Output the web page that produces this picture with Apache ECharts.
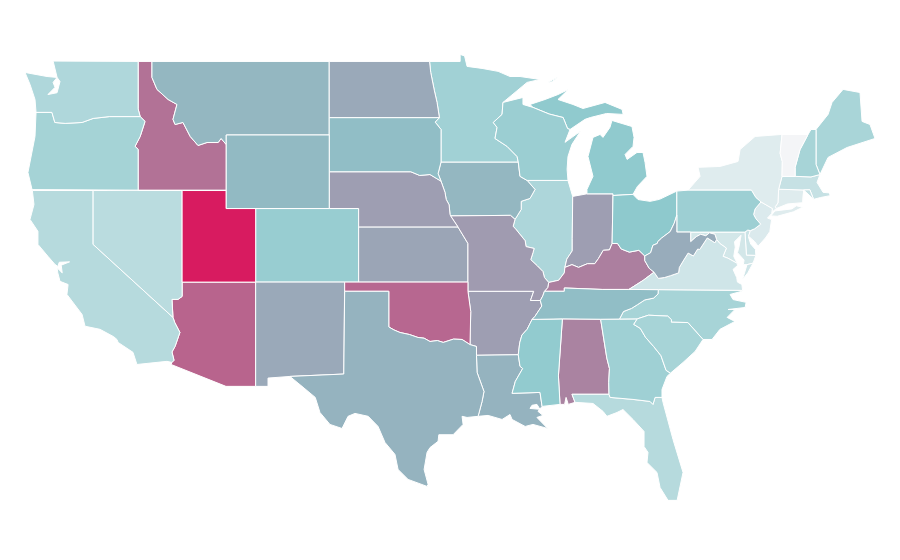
<!DOCTYPE html>
<html><head><meta charset="utf-8">
<style>html,body{margin:0;padding:0;background:#fff}#c{width:900px;height:560px}</style>
<script src="https://cdn.jsdelivr.net/npm/echarts@6/dist/echarts.min.js"></script>
</head><body><div id="c"></div>
<script>
const stateNames = ['Alabama','Arizona','Arkansas','California','Colorado','Connecticut','Delaware','District of Columbia','Florida','Georgia','Idaho','Illinois','Indiana','Iowa','Kansas','Kentucky','Louisiana','Maine','Maryland','Massachusetts','Michigan','Minnesota','Mississippi','Missouri','Montana','Nebraska','Nevada','New Hampshire','New Jersey','New Mexico','New York','North Carolina','North Dakota','Ohio','Oklahoma','Oregon','Pennsylvania','Rhode Island','South Carolina','South Dakota','Tennessee','Texas','Utah','Vermont','Virginia','Washington','West Virginia','Wisconsin','Wyoming'];
const stateValues = [70,79,62,30,44,10,19,16,30,41,75,34,62,55,60,71,56,36,16,22,48,40,47,63,55,62,28,37,12,59,10,37,59,49,78,38,42,22,37,53,53,56,100,0,18,33,58,43,54];
const scaleColors = ['#f4f5f7','#8cc8cc','#d81b60'];
const scaleMin = 0, scaleMax = 100;

// Shared state borders, lon lat
const B = {
 wiMn:'-92.24 46.77,-92.3 46.12,-92.9 45.68,-92.64 45.41,-92.78 44.81,-91.96 44.38,-91.28 43.83,-91.2 43.53',
 iaWi:'-91.2 43.53,-91.08 42.75,-90.6 42.53',
 iaIl:'-90.6 42.53,-90.06 42.04,-90.4 41.55,-91 41.39,-91 40.95,-91.42 40.41',
 moIl:'-91.42 40.41,-91.55 40.03,-91.42 39.93,-90.73 39.25,-90.67 38.93,-90.12 38.83,-90.2 38.6,-90.35 38.22,-89.9 37.88,-89.52 37.57,-89.42 37.25,-89.13 36.98',
 moKy:'-89.13 36.98,-89.2 36.7,-89.42 36.5',
 moTn:'-89.42 36.5,-89.53 36.25,-89.7 36',
 arTn:'-89.7 36,-89.6 35.7,-90.07 35.13,-90.26 34.97',
 arMs:'-90.26 34.97,-90.6 34.43,-90.95 34.12,-91.1 33.7,-91.2 33.05',
 laMs:'-91.2 33.05,-91.08 32.42,-90.9 32.3,-91.4 31.6,-91.62 30.95,-89.72 31,-89.58 30.24',
 ilKy:'-89.13 36.98,-88.45 37.1,-88.07 37.5,-88.03 37.8',
 ilIn:'-88.03 37.8,-87.9 38.25,-87.53 38.7,-87.53 39.35,-87.5 41.66',
 inKy:'-88.03 37.8,-87.55 37.95,-87.1 37.8,-86.5 38,-86 38,-85.75 38.28,-85.42 38.73,-85 38.75,-84.82 39.1',
 inOh:'-84.76 41.8,-84.76 41.71,-84.82 39.1',
 ohKy:'-84.82 39.1,-84.45 39.1,-84.2 38.8,-83.65 38.63,-83 38.73,-82.6 38.42',
 ohWv:'-82.6 38.42,-82.2 38.6,-82.05 39,-81.75 39.1,-81.72 39.2,-81.45 39.4,-80.87 39.75,-80.6 40.2,-80.42 40.64',
 kyWv:'-82.6 38.42,-82.6 38.17,-82.3 37.75,-81.97 37.54',
 kyVa:'-81.97 37.54,-82.7 37.1,-83.68 36.6',
 vaWv:'-81.97 37.54,-81.68 37.2,-81.25 37.25,-80.85 37.35,-80.3 37.5,-80.25 37.8,-79.95 38.2,-79.65 38.58,-79.3 38.42,-79 38.8,-78.87 38.77,-78.35 39.4,-77.83 39.14,-77.72 39.32',
 mdWv:'-77.72 39.32,-77.83 39.6,-78.2 39.68,-78.45 39.52,-78.8 39.6,-79.1 39.47,-79.48 39.2,-79.48 39.72',
 paWv:'-79.48 39.72,-80.42 39.72,-80.42 40.64',
 paOh:'-80.42 40.64,-80.42 41.95',
 mdPa:'-79.48 39.72,-75.79 39.72',
 dePa:'-75.79 39.72,-75.6 39.83,-75.42 39.8',
 njPa:'-75.42 39.8,-75.13 39.9,-74.72 40.15,-75.05 40.45,-75.2 40.68,-75.1 40.98,-74.7 41.36',
 nyPa:'-74.7 41.36,-75.05 41.6,-75.35 42,-79.66 42',
 nyNj:'-74.7 41.36,-73.92 41,-73.95 40.75',
 mdDe:'-75.79 39.72,-75.69 38.46,-75.05 38.45',
 mdVa:'-77.72 39.32,-77.5 39.1,-77.05 38.85,-77.28 38.4,-76.95 38.3,-76.32 38.02',
 vaTn:'-81.68 36.59,-83.68 36.6',
 vaNc:'-75.95 36.55,-81.68 36.59',
 kyTn:'-83.68 36.6,-85.5 36.6,-88.07 36.68,-88.07 36.5,-89.42 36.5',
 tnNc:'-81.68 36.59,-81.7 36.35,-82 36.13,-82.6 36.03,-83.1 35.77,-83.5 35.57,-84.05 35.4,-84.32 34.99',
 ncSc:'-78.64 33.88,-79.67 34.8,-80.8 34.82,-80.78 34.95,-81.04 35.15,-82.35 35.2,-83.11 35',
 ncGa:'-83.11 35,-84.32 34.99',
 tnGa:'-85.6 34.98,-84.32 34.99',
 tnAl:'-88.2 35,-85.6 34.98',
 tnMs:'-90.26 34.97,-88.2 35',
 scGa:'-83.11 35,-83.35 34.7,-82.9 34.48,-82.55 34,-82 33.5,-81.5 33,-81.15 32.2,-80.85 32.05',
 gaAl:'-85.6 34.98,-85.18 32.87,-85 32.3,-85.05 31.55,-85.03 30.9',
 gaFl:'-85.03 30.9,-84.96 30.73,-83.4 30.62,-82.24 30.51,-82.04 30.35,-81.9 30.73,-81.43 30.73',
 alMs:'-88.2 35,-88.47 31.9,-88.36 30.35',
 alFl:'-87.34 30.46,-87.55 30.9,-85.03 30.9',
 laTx:'-93.93 29.7,-93.66 30.51,-93.53 31.05,-94 32.09,-94.04 33.02',
 arLa:'-91.2 33.05,-94.04 33.02',
 arTx:'-94.04 33.02,-94.04 33.5,-94.48 33.6',
 arOk:'-94.48 33.6,-94.43 35.4,-94.62 36.5',
 red:'-100 34.56,-99.65 34.4,-99.24 34.26,-98.6 34.15,-98.02 33.99,-97.6 33.95,-97.2 33.77,-96.7 33.82,-96.3 33.72,-95.6 33.9,-95.02 33.88,-94.48 33.6',
 okTx:'-103 36.5,-100 36.5,-100 34.56',
 moAr:'-94.62 36.5,-90.15 36.5,-90.37 36,-89.7 36',
 ksMo:'-95.3 40,-94.62 39.1,-94.62 37',
 okMo:'-94.62 37,-94.62 36.5',
 neMo:'-95.8 40.6,-95.3 40',
 neIa:'-96.45 42.49,-96.18 41.88,-96.1 41.5,-95.9 41.2,-95.84 40.68,-95.8 40.6',
 iaMo:'-91.42 40.41,-91.73 40.63,-95.8 40.6',
 sdIa:'-96.45 43.53,-96.65 42.9,-96.45 42.49',
 mnSd:'-96.45 43.53,-96.45 45.3,-96.85 45.7,-96.56 45.94',
 mnNd:'-96.56 45.94,-96.72 46.77,-96.9 47.4,-97.15 48.4,-97.23 49',
 neSd:'-104.05 43,-98.5 43,-97.9 42.8,-97.2 42.85,-96.45 42.49',
 wiMi:'-90.2 46.5,-89.1 46.14,-88.15 45.95,-87.85 45.35,-87.68 45.3',
 waOr:'-123.98 46.23,-122.9 46.23,-122.7 45.68,-122 45.63,-120.85 45.68,-120.1 45.9,-119 46,-116.9 46',
 waId:'-116.9 46,-117.04 46.42,-117.04 49',
 orId:'-117.04 42,-117.04 44.22,-117.25 44.38,-116.9 44.92,-116.57 45.74,-116.9 46',
 idMt:'-116.1 49,-116.1 48.13,-115.76 47.48,-115 46.93,-114.4 46.66,-114.67 45.85,-114.53 45.57,-113.99 45.68,-113.5 44.92,-112.97 44.43,-112.36 44.59,-111.6 44.59,-111.4 44.81,-111.05 44.48',
 azCa:'-114.74 32.63,-114.6 32.75,-114.74 33.2,-114.53 33.5,-114.2 34.26,-114.55 34.8,-114.67 35.08',
 azNv:'-114.67 35.08,-114.74 36.06,-114.33 36.06,-114.05 36.22,-114.05 37',
 nyVt:'-73.27 45.03,-73.4 44,-73.25 43.55,-73.27 42.75',
 maNy:'-73.27 42.75,-73.5 42.05',
 ctNy:'-73.5 42.05,-73.55 41.3,-73.73 41.1,-73.66 41',
 vtNh:'-71.5 45.03,-72.05 44.2,-72.38 43.24,-72.38 42.75',
 maNh:'-72.38 42.75,-71.3 42.72,-70.69 42.85',
 meNh:'-70.96 45.3,-70.96 43.4,-70.69 42.85',
 maCt:'-73.5 42.05,-71.8 42.01',
 maRi:'-71.8 42.01,-71.38 42.02,-71.12 41.5',
 ctRi:'-71.8 42.01,-71.85 41.32'
};
const D = {
 Alabama:[['tnAl','gaAl','~alFl','-87.8 30.35,-87.95 30.73,-88.05 30.35','~alMs']],
 Arizona:[['-114.05 37,-109.05 37,-109.05 31.33,-111.07 31.33,-114.8 32.52','azCa','azNv']],
 Arkansas:[['moAr','arTn','arMs','arLa','arTx','arOk']],
 California:[['-124.23 41.98,-120.1 41.98,-120.1 39.05','~azCa','-115.08 32.69,-117.12 32.52,-117.39 33.18,-118.4 33.72,-118.48 33.88,-118.7 34.03,-119.63 34.43,-120.65 34.6,-120.85 35.24,-121.88 36.33,-121.8 36.87,-122.35 37.04,-122.5 37.5,-122.55 37.78,-122.2 37.5,-122.27 37.92,-121.7 38.1,-122.4 38.08,-122.5 37.85,-122.69 37.96,-123.17 38.4,-123.85 39.05,-123.85 39.76,-124.39 40.41,-124.12 41.22']],
 Colorado:[['-109.05 41,-102.05 41,-102.05 37,-109.05 37']],
 Connecticut:[['maCt','ctRi','-72.9 41.25','~ctNy']],
 Delaware:[['dePa','-75.55 39.45,-75.4 39.07,-75.08 38.78','~mdDe']],
 'District of Columbia':[['-77.12 38.93,-77.04 39,-76.91 38.89,-77.04 38.8']],
 Florida:[['alFl','gaFl','-81.36 30.46,-80.68 28.44,-80 26.65,-80.4 25.13,-81.02 25.13,-81.56 25.83,-81.77 26.65,-82.45 27.19,-82.38 27.74,-82.65 28.06,-82.65 28.88,-83.4 29.53,-84.08 30.07,-84.49 29.91,-85.17 29.7,-85.44 29.97,-86.12 30.4']],
 Georgia:[['tnGa','~ncGa','scGa','-81.09 31.87,-81.43 31.16','~gaFl','~gaAl']],
 Idaho:[['-117.04 49','idMt','-111.05 42','orId','waId']],
 Illinois:[['-90.6 42.53,-87.82 42.53','~ilIn','~ilKy','~moIl','~iaIl']],
 Indiana:[['ilIn','-86.53 41.8','inOh','~inKy']],
 Iowa:[['~sdIa','iaWi','iaIl','iaMo','~neIa']],
 Kansas:[['-102.05 40','ksMo','-102.05 37']],
 Kentucky:[['ilKy','inKy','ohKy','kyWv','kyVa','kyTn','~moKy']],
 Louisiana:[['~arLa','laMs','-89.86 29.97,-89.52 29.75,-89.93 29.64,-89.2 29.04,-90.2 29.26,-90.73 29.15,-91.62 29.53,-91.76 29.8,-92.3 29.53,-93.25 29.75','laTx'],['-90.4 30.13,-89.72 30.08,-89.93 30.35,-90.27 30.3']],
 Maine:[['meNh','-70.14 43.78,-68.85 44.32,-66.95 44.81,-67.29 45.57,-67.83 45.74,-67.97 47.31,-69.12 47.48,-69.87 46.77,-70.14 46.12']],
 Maryland:[['mdPa','mdDe','-75.24 38.03,-75.65 37.95,-75.9 37.95,-75.85 38.2,-76.3 38.6,-76.2 38.9,-76.1 39.35,-76.05 39.55,-76.5 39.2,-76.45 38.9,-76.55 38.4','~mdVa','mdWv']],
 Massachusetts:[['~maNy','maNh','-70.89 42.42,-70.48 41.88,-70.05 41.85,-70 41.7,-70.65 41.6','~maRi','~maCt']],
 Michigan:[['-86.53 41.8,-84.76 41.8,-84.76 41.71,-83.4 41.77,-83.1 42.2,-82.45 42.75,-82.58 43.5,-82.72 44.05,-83.13 44.05,-83.8 43.67,-83.94 43.94,-83.4 44.38,-83.33 44.87,-83.47 45.46,-84.83 45.79,-84.97 45.41,-85.44 44.87,-85.64 45.03,-86.12 44.87,-86.46 43.83,-86.12 42.75,-86.53 42.04'],['wiMi','-87.48 45.41,-86.66 45.85,-86.3 45.95,-85.2 46.17,-84.07 46.12,-84.14 46.39,-85.3 46.77,-86.8 46.44,-87.48 46.66,-88.5 46.93,-87.8 47.47,-88.5 47.2,-89.38 46.93,-90.4 46.66'],['-89.2 47.85,-88.5 48.15,-88.9 47.9']],
 Minnesota:[['mnNd','-95.15 49,-95.15 49.38,-94.85 49.3,-94.68 48.73,-93.66 48.62,-92.57 48.46,-91.76 48.18,-91.08 48.18,-89.72 48.02,-90.6 47.86','wiMn','mnSd']],
 Mississippi:[['tnMs','alMs','~laMs','~arMs']],
 Missouri:[['neMo','ksMo','okMo','moAr','~moTn','~moKy','~moIl','iaMo']],
 Montana:[['idMt','-111.05 45,-104.05 45,-104.05 49']],
 Nebraska:[['neSd','neIa','neMo','-102.05 40,-102.05 41,-104.05 41']],
 Nevada:[['-120.1 41.98,-114.05 41.98','~azNv','-120.1 39.05']],
 'New Hampshire':[['vtNh','maNh','~meNh','-71.3 45.3']],
 'New Jersey':[['njPa','nyNj','-74.26 40.48,-73.98 40.4,-74.1 39.75,-74.4 39.4,-74.9 38.95,-75.13 39.2,-75.55 39.5']],
 'New Mexico':[['-109.05 37,-103 37,-103.06 32,-106.72 31.87,-108.21 31.78,-108.21 31.33,-109.05 31.33']],
 'New York':[['-78.84 42.75,-78.98 43.24,-77.48 43.29,-76.26 43.56,-76.12 44.21,-75.1 44.92','nyVt','maNy','ctNy','-73.92 40.82','~nyNj','nyPa'],['-74.03 40.6,-73.75 40.87,-72.6 40.98,-72.3 41.15,-71.87 41.07,-72.5 40.82,-73.6 40.58']],
 'North Carolina':[['vaNc','tnNc','~ncGa','~ncSc','-78.03 33.88,-77.49 34.43,-76.47 34.86,-77 35.08,-76.47 35.51,-76.94 35.51,-75.78 35.62,-75.71 35.9,-76.6 36.05,-76.8 36.33,-76 36.5']],
 'North Dakota':[['-104.05 49','~mnNd','-104.05 45.94']],
 Ohio:[['-84.76 41.71,-83.4 41.77,-83.06 41.49,-82.24 41.39,-81.6 41.5','~paOh','~ohWv','~ohKy']],
 Oklahoma:[['-103 37,-94.62 37','okMo','~arOk','~red','~okTx']],
 Oregon:[['waOr','~orId','-124.25 42.03,-124.53 42.96,-124.05 44.92']],
 Pennsylvania:[['mdPa','dePa','njPa','nyPa','~paOh','~paWv']],
 'Rhode Island':[['maRi','ctRi']],
 'South Carolina':[['ncSc','scGa','-80 32.63,-79.18 33.23']],
 'South Dakota':[['-104.05 45.94','~mnSd','sdIa','~neSd']],
 Tennessee:[['kyTn','moTn','arTn','tnMs','tnAl','tnGa','~tnNc','vaTn']],
 Texas:[['-106.72 31.87,-103.06 32,-103 36.5','okTx','red','~arTx','~laTx','-94.68 29.64,-95.02 29.7,-94.95 29.26,-95.63 28.7,-96.6 28.7,-96.65 28.34,-97.2 28,-97.4 27.74,-97.6 26.81,-97.33 26,-97.4 25.89,-98.69 26.27,-99.37 26.81,-99.58 27.63,-100.26 28.28,-100.73 29.15,-101.4 29.7,-102.3 29.86,-102.77 29.7,-103.18 29.04,-104 29.26,-104.68 29.91,-105 30.73,-105.9 31.33']],
 Utah:[['-114.05 41.98,-111.05 41.98,-111.05 41,-109.05 41,-109.05 37,-114.05 37']],
 Vermont:[['nyVt','-72.38 42.75','~vtNh']],
 Virginia:[['mdVa','-76.3 37.9,-76.6 37.69,-76.35 37.25,-76.3 37,-76 36.87','vaNc','vaTn','~kyVa','vaWv'],['-75.24 38.03,-75.65 37.95,-75.95 37.15,-75.6 37.5']],
 Washington:[['-117.04 49,-122.82 49.02,-122.55 48.13,-122.35 47.91,-122.55 47.3,-123.17 47.2,-122.69 47.59,-122.82 47.86,-122.55 48.13,-123.23 48.18,-124.73 48.4,-124.39 47.75,-124.05 46.93','waOr','waId']],
 'West Virginia':[['ohWv','~paWv','~mdWv','~vaWv','~kyWv']],
 Wisconsin:[['wiMn','iaWi','-87.82 42.53,-87.88 43.13,-87.82 43.83,-87.55 44.49,-87.2 44.92,-86.98 45.2,-88.02 44.6,-87.68 45.3','~wiMi','-90.88 46.66,-90.88 47.04']],
 Wyoming:[['-111.05 45,-104.05 45,-104.05 41,-111.05 41']]
};
function parse(s){return s.split(',').map(p=>p.trim().split(/\s+/).map(Number));}
function arc(k){
  if(k[0]==='~') return parse(B[k.slice(1)]).reverse();
  return B[k]?parse(B[k]):parse(k);
}
function ring(parts){
  let r=[];
  parts.forEach(p=>{ r=r.concat(arc(p)); });
  r.push(r[0].slice());
  return r;
}
const geo = {type:'FeatureCollection',features:stateNames.map(n=>{
  const polys=[];
  D[n].forEach((parts,i)=>{
    if(n==='Louisiana'&&i===1){ polys[0].push(ring(parts)); }
    else polys.push([ring(parts)]);
  });
  return {type:'Feature',properties:{name:n},geometry:{type:'MultiPolygon',coordinates:polys}};
})};
echarts.registerMap('USA',geo);
const chart=echarts.init(document.getElementById('c'),null,{renderer:'canvas'});
chart.setOption({
  animation:false,
  backgroundColor:'#fff',
  visualMap:{show:false,min:scaleMin,max:scaleMax,inRange:{color:scaleColors}},
  series:[{
    type:'map',map:'USA',roam:false,silent:true,
    boundingCoords:[[-124.73,49.38],[-66.95,25.12]],
    aspectScale:0.8,layoutCenter:[450,277.5],layoutSize:850,
    label:{show:false},
    itemStyle:{borderColor:'#fff',borderWidth:1},
    data:stateNames.map((n,i)=>({name:n,value:stateValues[i]}))
  }]
});
</script></body></html>
